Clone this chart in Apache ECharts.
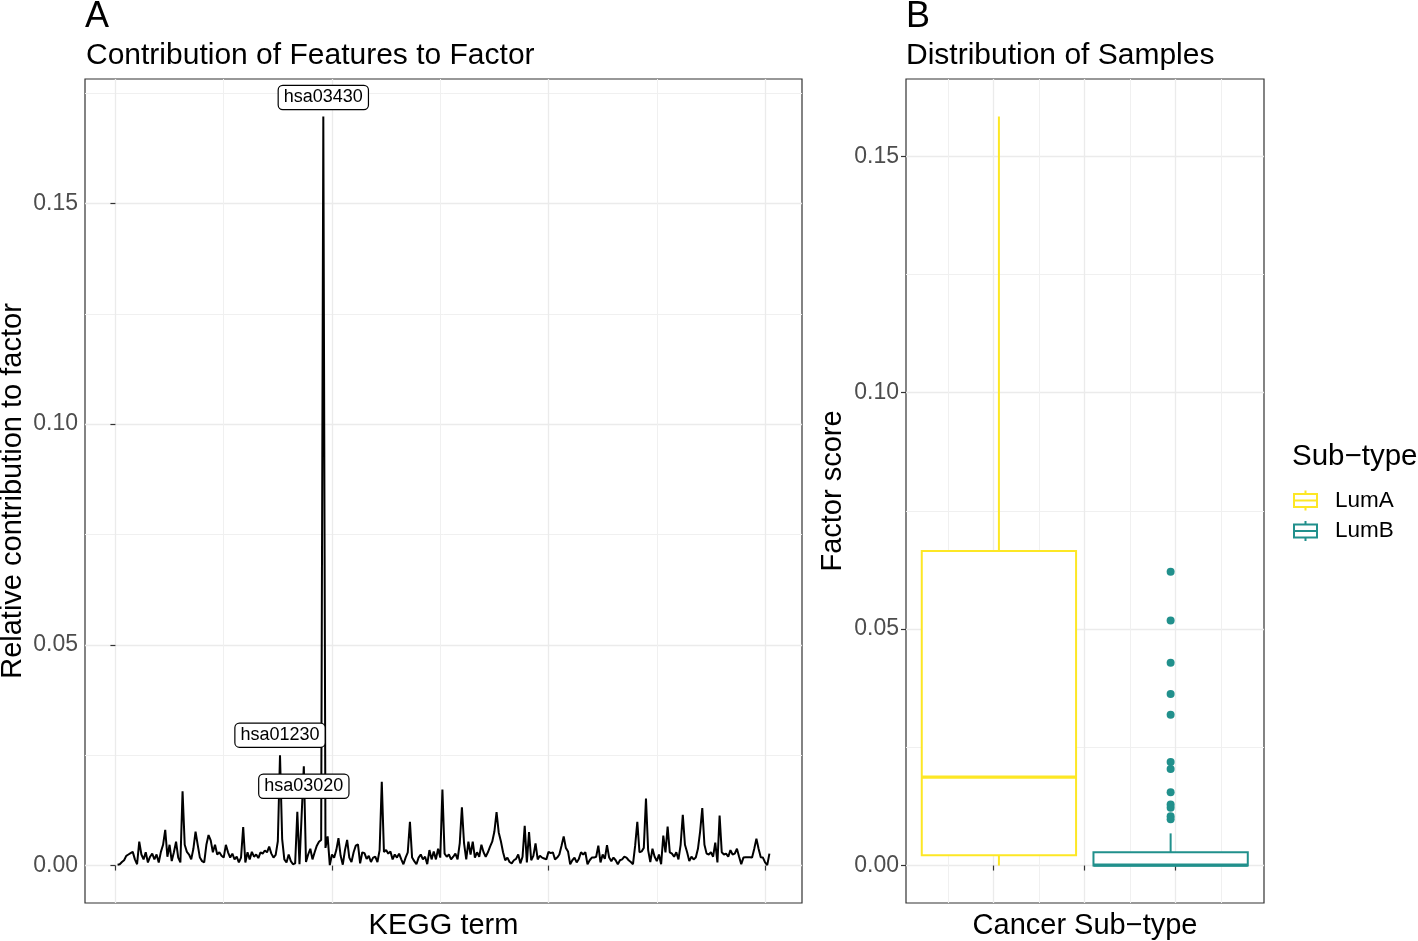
<!DOCTYPE html>
<html>
<head>
<meta charset="utf-8">
<script src="https://cdn.jsdelivr.net/npm/echarts@6.0.0/dist/echarts.min.js"></script>
<style>
html,body{margin:0;padding:0;background:#fff;}
#chart{width:1418px;height:941px;}
</style>
</head>
<body>
<div id="chart"></div>
<script>
// ---------- Panel A data: relative contribution of each KEGG term (x = 1..302) ----------
const keggValues = [
 0.0002,0.0003,0.0008,0.0012,0.0022,0.0025,0.0028,0.0031,0.0014,0.0003,
 0.0054,0.0025,0.0014,0.0030,0.0007,0.0020,0.0027,0.0014,0.0025,0.0007,
 0.0031,0.0047,0.0081,0.0020,0.0047,0.0010,0.0030,0.0054,0.0018,0.0007,
 0.0168,0.0047,0.0031,0.0025,0.0014,0.0038,0.0077,0.0047,0.0018,0.0010,
 0.0007,0.0047,0.0069,0.0057,0.0030,0.0047,0.0025,0.0030,0.0022,0.0018,
 0.0047,0.0030,0.0018,0.0027,0.0014,0.0020,0.0007,0.0018,0.0087,0.0007,
 0.0030,0.0014,0.0031,0.0020,0.0025,0.0017,0.0030,0.0027,0.0034,0.0030,
 0.0043,0.0027,0.0018,0.0024,0.0055,0.0250,0.0060,0.0014,0.0007,0.0025,
 0.0010,0.0003,0.0005,0.0122,0.0003,0.0115,0.0225,0.0008,0.0025,0.0038,
 0.0014,0.0030,0.0045,0.0054,0.0058,0.1697,0.0040,0.0066,0.0001,0.0025,
 0.0018,0.0035,0.0062,0.0022,0.0002,0.0035,0.0058,0.0018,0.0008,0.0030,
 0.0045,0.0048,0.0005,0.0030,0.0028,0.0015,0.0022,0.0008,0.0018,0.0020,
 0.0008,0.0035,0.0190,0.0031,0.0035,0.0027,0.0032,0.0014,0.0025,0.0018,
 0.0027,0.0014,0.0003,0.0018,0.0030,0.0099,0.0018,0.0010,0.0003,0.0018,
 0.0025,0.0014,0.0020,0.0003,0.0035,0.0014,0.0032,0.0014,0.0038,0.0018,
 0.0172,0.0027,0.0020,0.0025,0.0014,0.0020,0.0027,0.0014,0.0050,0.0132,
 0.0050,0.0014,0.0054,0.0025,0.0054,0.0018,0.0030,0.0020,0.0047,0.0030,
 0.0020,0.0030,0.0043,0.0054,0.0077,0.0121,0.0075,0.0055,0.0030,0.0012,
 0.0018,0.0008,0.0005,0.0012,0.0015,0.0025,0.0005,0.0020,0.0090,0.0007,
 0.0076,0.0012,0.0022,0.0050,0.0014,0.0022,0.0018,0.0016,0.0014,0.0031,
 0.0028,0.0030,0.0014,0.0018,0.0025,0.0045,0.0066,0.0040,0.0032,0.0003,
 0.0012,0.0018,0.0007,0.0015,0.0030,0.0025,0.0030,0.0003,0.0012,0.0018,
 0.0018,0.0020,0.0045,0.0007,0.0025,0.0015,0.0046,0.0018,0.0010,0.0018,
 0.0012,0.0003,0.0012,0.0014,0.0020,0.0018,0.0012,0.0008,0.0003,0.0045,
 0.0099,0.0030,0.0032,0.0040,0.0152,0.0035,0.0008,0.0038,0.0020,0.0010,
 0.0025,0.0003,0.0068,0.0030,0.0088,0.0030,0.0027,0.0020,0.0030,0.0014,
 0.0047,0.0115,0.0047,0.0030,0.0010,0.0020,0.0014,0.0018,0.0038,0.0077,
 0.0130,0.0047,0.0027,0.0025,0.0030,0.0020,0.0052,0.0007,0.0113,0.0030,
 0.0025,0.0027,0.0020,0.0035,0.0025,0.0027,0.0038,0.0020,0.0003,0.0018,
 0.0019,0.0019,0.0019,0.0018,0.0038,0.0061,0.0038,0.0019,0.0018,0.0007,
 0.0001,0.0027
];
const labelTerms = ['hsa03430', 'hsa01230', 'hsa03020'];
const labelTermIndex = [96, 76, 87];          // x position (1-based) of the labelled features
const xTicksA = [0, 100, 200, 300];
const xMinorA = [50, 150, 250];
const yTicksA = [0, 0.05, 0.10, 0.15];
const yMinorA = [0.025, 0.075, 0.125, 0.175];

// ---------- Panel B data: factor scores by sub-type ----------
const subtypes = ['LumA', 'LumB'];
const subtypeColors = ['#FDE725', '#21908C'];
const boxCenters = [1.06, 2.945];
// [lower whisker, Q1, median, Q3, upper whisker]
const boxLumA = [0.0000, 0.0022, 0.0187, 0.0665, 0.1584];
const boxLumB = [0.0000, 0.0000, 0.0001, 0.0028, 0.0068];
const outliersLumB = [0.0621, 0.0518, 0.0429, 0.0363, 0.0319, 0.0219, 0.0204, 0.0155, 0.0129, 0.0122, 0.0104, 0.0098];
const xTicksB = [1, 2, 3];
const xMinorB = [0.5, 1.5, 2.5, 3.5];
const yTicksB = [0, 0.05, 0.10, 0.15];
const yMinorB = [0.025, 0.075, 0.125];

// ---------- styling ----------
const FONT = "'Liberation Sans', Arial, Helvetica, sans-serif";
const BOX_HALF = 0.847;
const majorGrid = {color: '#EBEBEB', width: 1.3};
const minorGrid = {color: '#F0F0F0', width: 1};
const tickLabel = {color: '#4D4D4D', fontSize: 23, fontFamily: FONT, margin: 7};
const axisTitle = {color: '#000', fontSize: 29, fontFamily: FONT};

function majorAxis(gridIndex, min, max, ticks, fmt, extra) {
  return Object.assign({
    gridIndex, type: 'value', min, max,
    axisLine: {show: false},
    axisTick: {show: true, length: 5, customValues: ticks, lineStyle: {color: '#333333', width: 1.2}},
    axisLabel: Object.assign({show: !!fmt, customValues: ticks, formatter: fmt || undefined}, tickLabel),
    splitLine: {show: true, lineStyle: majorGrid},
    nameMoveOverlap: false,
    nameTextStyle: axisTitle
  }, extra || {});
}
function minorAxis(gridIndex, min, max, ticks) {
  return {
    gridIndex, type: 'value', min, max,
    axisLine: {show: false},
    axisTick: {show: false, customValues: ticks},
    axisLabel: {show: false, customValues: ticks},
    splitLine: {show: true, lineStyle: minorGrid}
  };
}
const fmt2 = v => v.toFixed(2);

const yMaxA = 0.1697 * 1.05, yMinA = -0.1697 * 0.05;
const yMaxB = 0.1584 * 1.05, yMinB = -0.1584 * 0.05;

function boxRenderer(color) {
  return function (params, api) {
    const c = api.value(0);
    const lo = api.value(1), q1 = api.value(2), med = api.value(3), q3 = api.value(4), hi = api.value(5);
    const tl = api.coord([c - BOX_HALF, q3]);
    const br = api.coord([c + BOX_HALF, q1]);
    const ml = api.coord([c - BOX_HALF, med]);
    const mr = api.coord([c + BOX_HALF, med]);
    const pHi = api.coord([c, hi]), pQ3 = api.coord([c, q3]), pQ1 = api.coord([c, q1]), pLo = api.coord([c, lo]);
    const lw = 2;
    return {
      type: 'group',
      children: [
        {type: 'line', shape: {x1: pHi[0], y1: pHi[1], x2: pQ3[0], y2: pQ3[1]}, style: {stroke: color, lineWidth: lw}},
        {type: 'line', shape: {x1: pQ1[0], y1: pQ1[1], x2: pLo[0], y2: pLo[1]}, style: {stroke: color, lineWidth: lw}},
        {type: 'rect', shape: {x: tl[0], y: tl[1], width: br[0] - tl[0], height: br[1] - tl[1]}, style: {fill: '#ffffff', stroke: color, lineWidth: lw}},
        {type: 'line', shape: {x1: ml[0], y1: ml[1], x2: mr[0], y2: mr[1]}, style: {stroke: color, lineWidth: 3.2}}
      ]
    };
  };
}

const ICON = 'path://M1,3.5 L24,3.5 L24,16.5 L1,16.5 Z M1,10 L24,10 M12.5,0 L12.5,3.5 M12.5,16.5 L12.5,20';
const titleStyle = size => ({fontSize: size, fontWeight: 'normal', color: '#000', fontFamily: FONT});

const option = {
  animation: false,
  backgroundColor: '#ffffff',
  textStyle: {fontFamily: FONT},
  title: [
    {text: 'A', left: 85, top: -1, padding: 0, textStyle: titleStyle(36)},
    {text: 'Contribution of Features to Factor', left: 86, top: 41, padding: 0, textStyle: titleStyle(30)},
    {text: 'B', left: 906, top: -1, padding: 0, textStyle: titleStyle(36)},
    {text: 'Distribution of Samples', left: 906, top: 41, padding: 0, textStyle: titleStyle(30)},
    {text: 'Sub\u2212type', left: 1292, top: 442, padding: 0, textStyle: titleStyle(29.5)}
  ],
  legend: {
    left: 1293, top: 489, orient: 'vertical', padding: 0,
    itemWidth: 25, itemHeight: 20, itemGap: 7.5,
    textStyle: {fontSize: 22.5, color: '#000', fontFamily: FONT, padding: [0, 0, 0, 12]},
    data: subtypes.map((s, i) => ({
      name: s, icon: ICON,
      itemStyle: {color: 'rgba(0,0,0,0)', borderColor: subtypeColors[i], borderWidth: 2}
    }))
  },
  grid: [
    {left: 85, top: 79, width: 717, height: 824, show: true, borderColor: '#333333', borderWidth: 1.2, backgroundColor: '#fff', containLabel: false, outerBoundsMode: 'none'},
    {left: 906, top: 79, width: 358, height: 824, show: true, borderColor: '#333333', borderWidth: 1.2, backgroundColor: '#fff', containLabel: false, outerBoundsMode: 'none'}
  ],
  xAxis: [
    majorAxis(0, -14.05, 317.05, xTicksA, null, {position: 'bottom', name: 'KEGG term', nameLocation: 'middle', nameGap: 8}),
    minorAxis(0, -14.05, 317.05, xMinorA),
    majorAxis(1, 0.04, 3.97, xTicksB, null, {position: 'bottom', name: 'Cancer Sub\u2212type', nameLocation: 'middle', nameGap: 8}),
    minorAxis(1, 0.04, 3.97, xMinorB)
  ],
  yAxis: [
    majorAxis(0, yMinA, yMaxA, yTicksA, fmt2, {position: 'left', name: 'Relative contribution to factor', nameLocation: 'middle', nameGap: 58}),
    minorAxis(0, yMinA, yMaxA, yMinorA),
    majorAxis(1, yMinB, yMaxB, yTicksB, fmt2, {position: 'left', name: 'Factor score', nameLocation: 'middle', nameGap: 59}),
    minorAxis(1, yMinB, yMaxB, yMinorB)
  ],
  series: [
    {
      type: 'line', xAxisIndex: 0, yAxisIndex: 0,
      data: keggValues.map((v, i) => [i + 1, v]),
      showSymbol: false, symbol: 'none',
      lineStyle: {color: '#000', width: 2},
      z: 3,
      markPoint: {
        symbol: 'circle', symbolSize: 0,
        label: {
          show: true, position: 'inside', formatter: p => p.name,
          color: '#000', fontSize: 18, fontFamily: FONT,
          backgroundColor: '#ffffff', borderColor: '#000', borderWidth: 1.2, borderRadius: 4,
          padding: [3, 5, 2, 5]
        },
        data: labelTerms.map((t, k) => ({
          name: t,
          coord: [labelTermIndex[k], keggValues[labelTermIndex[k] - 1]],
          label: {offset: [[0, -19], [0, -20], [0, 20]][k]}
        }))
      }
    },
    {
      type: 'custom', name: 'LumA', xAxisIndex: 2, yAxisIndex: 2,
      renderItem: boxRenderer(subtypeColors[0]),
      itemStyle: {color: subtypeColors[0]},
      encode: {x: 0, y: [1, 2, 3, 4, 5]},
      data: [[boxCenters[0]].concat(boxLumA)], z: 3
    },
    {
      type: 'custom', name: 'LumB', xAxisIndex: 2, yAxisIndex: 2,
      renderItem: boxRenderer(subtypeColors[1]),
      itemStyle: {color: subtypeColors[1]},
      encode: {x: 0, y: [1, 2, 3, 4, 5]},
      data: [[boxCenters[1]].concat(boxLumB)], z: 3
    },
    {
      type: 'scatter', name: 'LumB', xAxisIndex: 2, yAxisIndex: 2,
      symbolSize: 8, itemStyle: {color: subtypeColors[1], opacity: 1},
      data: outliersLumB.map(v => [boxCenters[1], v]), z: 4
    }
  ]
};

const chart = echarts.init(document.getElementById('chart'), null, {renderer: 'canvas'});
chart.setOption(option);
</script>
</body>
</html>
